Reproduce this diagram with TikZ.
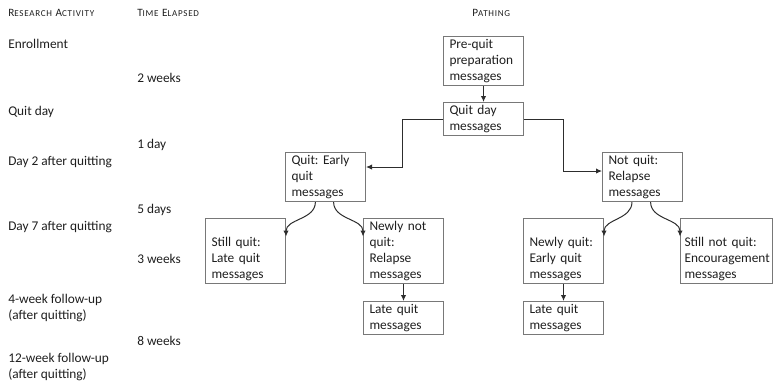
\documentclass[tikz,border=0pt]{standalone}
\usepackage{fontspec}
\setmainfont{Carlito}
\newfontfamily\hdfont[LetterSpace=8]{Carlito}
\usetikzlibrary{arrows.meta,calc}
\definecolor{boxgray}{RGB}{120,120,120}
\definecolor{linegray}{RGB}{45,45,45}
\definecolor{txtgray}{RGB}{30,30,30}
\newcommand{\hd}[2]{#1{\fontsize{6.8}{8}\selectfont #2}}
\frenchspacing

\begin{document}
\begin{tikzpicture}[x=0.75pt,y=-0.75pt,font=\fontsize{10}{12}\selectfont,text=txtgray,
 b/.style={draw=boxgray,line width=0.75pt,anchor=north west,align=left,text width=51pt,inner xsep=4.5pt,inner ysep=0.4pt,execute at begin node=\strut,execute at end node=\strut},
 hdr/.style={anchor=base west,inner sep=0pt,font=\hdfont\fontsize{8.4}{10}\selectfont},
 lbl/.style={anchor=north west,inner sep=0pt,align=left,execute at begin node=\strut},
 arr/.style={draw=linegray,line width=0.75pt,-{Latex[length=4.5pt,width=4pt]}}]
 \useasboundingbox (0,0) rectangle (773,385);
 \node[hdr](hact) at (8,17){\hd{R}{ESEARCH} \hd{A}{CTIVITY}};
 \node[hdr](htime) at (137,17){\hd{T}{IME} \hd{E}{LAPSED}};
 \node[hdr](hpath) at (472,17){\hd{P}{ATHING}};
 \node[lbl](enr) at (8,37.4){Enrollment};
 \node[lbl](t1) at (137,70.6){2 weeks};
 \node[lbl](qd) at (8,104.4){Quit day};
 \node[lbl](t2) at (137,137.3){1 day};
 \node[lbl](d2) at (8,154.3){Day 2 after quitting};
 \node[lbl](t3) at (137,202.4){5 days};
 \node[lbl](d7) at (8,219.4){Day 7 after quitting};
 \node[lbl](t4) at (137,252.4){3 weeks};
 \node[lbl](fu4) at (8,294.4){4-week follow-up\\(after quitting)};
 \node[lbl](t5) at (137,334.4){8 weeks};
 \node[lbl](fu12) at (8,353.4){12-week follow-up\\(after quitting)};
 \node[b](prequit) at (443,36){Pre-quit\\preparation\\messages};
 \node[b](quitday) at (443,102){Quit day\\messages};
 \node[b](early) at (285,152){Quit: Early\\quit\\messages};
 \node[b](notquit) at (602,152){Not quit:\\Relapse\\messages};
 \node[b](stillquit) at (205,218){\strut\\Still quit:\\Late quit\\messages};
 \node[b](newlynot) at (363,218){Newly not\\quit:\\Relapse\\messages};
 \node[b](newlyquit) at (523,218){\strut\\Newly quit:\\Early quit\\messages};
 \node[b,text width=63pt,inner xsep=3pt](stillnot) at (680,218){\strut\\Still not quit:\\Encouragement\\messages};
 \node[b](late1) at (363,301){Late quit\\messages};
 \node[b](late2) at (523,301){Late quit\\messages};
 \draw[arr](prequit)--(quitday);
 \draw[arr](quitday.west)--++(-41,0)|-($(early.north east)!0.3!(early.south east)$);
 \draw[arr](quitday.east)--++(39,0)|-($(notquit.north west)!0.38!(notquit.south west)$);
 \draw[arr]($(early.south west)!0.375!(early.south east)$) to[out=-90,in=90] ($(stillquit.north east)!0.28!(stillquit.south east)$);
 \draw[arr]($(early.south west)!0.6!(early.south east)$) to[out=-90,in=90] ($(newlynot.north west)!0.28!(newlynot.south west)$);
 \draw[arr]($(notquit.south west)!0.37!(notquit.south east)$) to[out=-90,in=90] ($(newlyquit.north east)!0.28!(newlyquit.south east)$);
 \draw[arr]($(notquit.south west)!0.6!(notquit.south east)$) to[out=-90,in=90] ($(stillnot.north west)!0.28!(stillnot.south west)$);
 \draw[arr](newlynot)--(late1);
 \draw[arr](newlyquit)--(late2);
\end{tikzpicture}
\end{document}
